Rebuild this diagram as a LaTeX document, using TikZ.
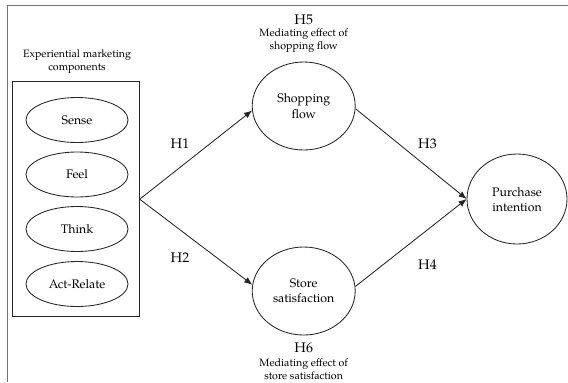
\documentclass[tikz,border=0pt]{standalone}
\usepackage{fontspec}
\setmainfont{TeX Gyre Pagella}
\usetikzlibrary{arrows.meta,shapes.geometric}
\begin{document}
\begin{tikzpicture}[x=1bp,y=-1bp,
  ln/.style={draw=black!85, line width=0.85bp},
  comp/.style={ellipse, ln, minimum width=102bp, minimum height=45bp, inner sep=0pt, font=\fontsize{12.4}{15}\selectfont},
  bigc/.style={ellipse, ln, minimum width=103bp, minimum height=88bp, inner sep=0pt},
  ctext/.style={align=center, font=\fontsize{12.4}{15.5}\selectfont, inner sep=0pt},
  hlab/.style={font=\fontsize{14}{16}\selectfont, inner sep=0pt},
  small/.style={align=center, font=\fontsize{10.7}{13}\selectfont, inner sep=0pt},
  arr/.style={ln, -{Latex[length=8bp,width=6.5bp]}}]
\useasboundingbox (0,0) rectangle (568,382);
% outer frame (cut off at right and bottom)
\coordinate (fbl) at (7.5,382);
\coordinate (ftl) at (7.5,5.5);
\coordinate (ftr) at (568,5.5);
\draw[black!55, line width=1bp] (fbl) -- (ftl) -- (ftr);
% components box
\node[small] (title) at (77,61.5) {Experiential marketing\\components};
\node[draw=black!85, line width=0.85bp, minimum width=126.6bp, minimum height=235bp, inner sep=0pt] (box) at (76,199.2) {};
\node[comp] (sense) at (77,120) {Sense};
\node[comp] (feel) at (77,174.5) {Feel};
\node[comp] (think) at (77,229) {Think};
\node[comp] (act) at (77,284) {Act-Relate};
% constructs
\node[bigc] (sf) at (303.7,106) {};
\node[ctext] (sft) at (303.7,106) {Shopping\\flow};
\node[bigc] (ss) at (303.7,291) {};
\node[ctext] (sst) at (303.7,291) {Store\\satisfaction};
\node[bigc, minimum width=100bp, minimum height=90bp] (pi) at (517,199) {};
\node[ctext] (pit) at (517,199.5) {Purchase\\intention};
% hypothesis labels
\node[hlab] (h1) at (180,144) {H1};
\node[hlab] (h2) at (180,257.5) {H2};
\node[hlab] (h3) at (427.5,143.5) {H3};
\node[hlab] (h4) at (427.5,265) {H4};
\node[hlab] (h5) at (303.7,19.5) {H5};
\node[small] (m5) at (303.7,41) {Mediating effect of\\shopping flow};
\node[hlab] (h6) at (303.7,348) {H6};
\node[small] (m6) at (303.7,369.5) {Mediating effect of\\store satisfaction};
% connectors
\draw[arr] (box.east) -- (sf.185);
\draw[arr] (box.east) -- (ss.173);
\draw[arr] (sf.-3) -- (pi.west);
\draw[arr] (ss.5) -- (pi.west);
\end{tikzpicture}
\end{document}
